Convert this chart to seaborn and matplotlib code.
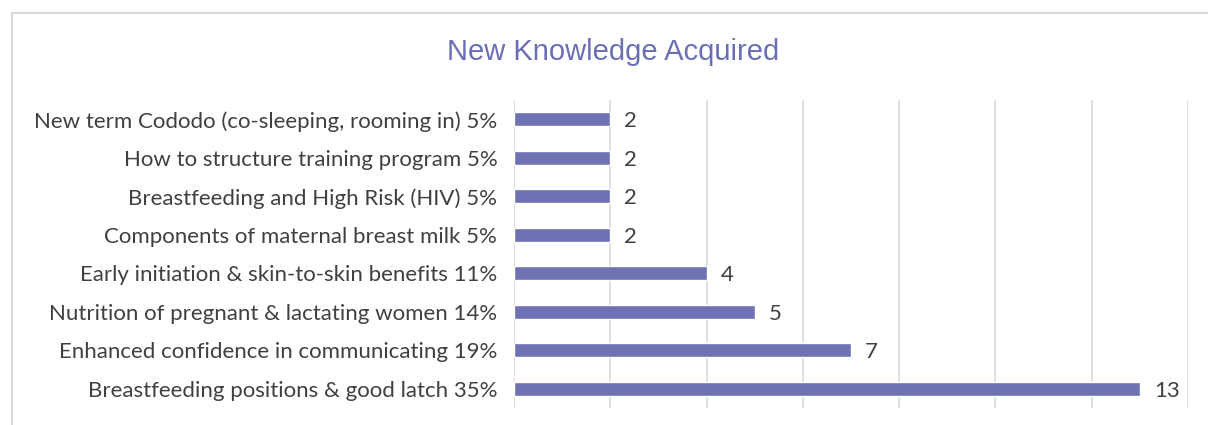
import matplotlib
matplotlib.use("Agg")
import matplotlib.pyplot as plt
import seaborn as sns
import pandas as pd
from matplotlib.patches import Rectangle

categories = [
    "New term Cododo (co-sleeping, rooming in) 5%",
    "How to structure training program 5%",
    "Breastfeeding and High Risk (HIV) 5%",
    "Components of maternal breast milk 5%",
    "Early initiation & skin-to-skin benefits 11%",
    "Nutrition of pregnant & lactating women 14%",
    "Enhanced confidence in communicating 19%",
    "Breastfeeding positions & good latch 35%",
]
values = [2, 2, 2, 2, 4, 5, 7, 13]

df = pd.DataFrame({"category": categories, "value": values})

sns.set_theme(style="white")
plt.rcParams["font.family"] = ["Lato", "DejaVu Sans"]

fig = plt.figure(figsize=(12.08, 4.25), dpi=100)
ax = fig.add_axes([514/1208, 1-408/425, (1188-514)/1208, 308/425])

bar_color = "#6E72B3"
sns.barplot(data=df, x="value", y="category", orient="h", color=bar_color,
            width=0.36, saturation=1, ax=ax, order=categories)

ax.set_xlim(0, 14)
ax.set_xticks(range(0, 15, 2))
ax.xaxis.grid(True, color="#D9D9D9", linewidth=1.2)
ax.set_axisbelow(True)
for s in ax.spines.values():
    s.set_visible(False)
ax.tick_params(axis="x", labelbottom=False, length=0)
ax.tick_params(axis="y", length=0, pad=12, labelsize=16, labelcolor="#404040")
ax.set_xlabel("")
ax.set_ylabel("")

for c in ax.containers:
    texts = ax.bar_label(c, padding=10, fontsize=16, color="#404040")
    for t in texts:
        t.set_va("center_baseline")

fig.text(613/1208, 1-52/425, "New Knowledge Acquired", ha="center", va="center",
         fontsize=21, color="#6A6FB5", family=["Liberation Sans", "DejaVu Sans"])

fig.patches.append(Rectangle((12/1208, -0.1), 1.2, 1-13/425+0.1, transform=fig.transFigure,
                             fill=False, edgecolor="#D9D9D9", linewidth=1.5))

fig.savefig("out.png", dpi=100)
